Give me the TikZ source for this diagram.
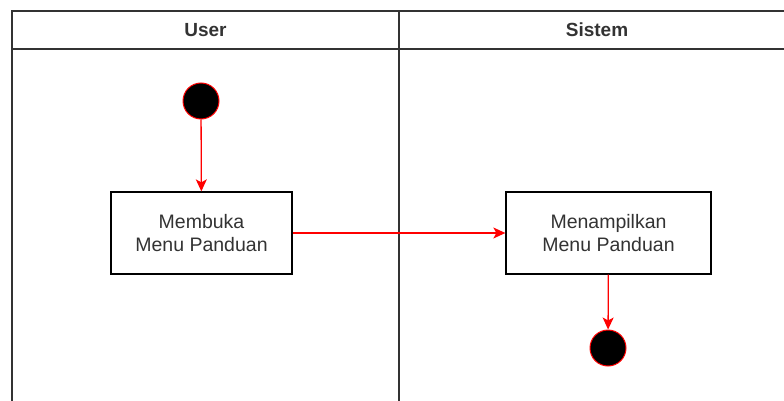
\documentclass[tikz,border=0pt]{standalone}
\usepackage{fontspec}
\setmainfont{Liberation Sans}
\usetikzlibrary{arrows.meta,shapes,positioning}

\begin{document}
\begin{tikzpicture}[x=1pt,y=-1pt,>={Stealth[length=12pt,width=11pt,inset=3pt]},auto]

  \tikzstyle{lane}=[draw=black!80,line width=1.6pt]
  \tikzstyle{state}=[circle,fill=black,draw=red,line width=1pt,minimum size=36pt,inner sep=0pt]
  \tikzstyle{activity}=[rectangle,draw=black,line width=1.3pt,fill=white,
  			  minimum height=82pt,align=center,text=black!80,
  			  font=\fontsize{19.5}{23}\selectfont]
  \tikzstyle{flow}=[->,draw=red,line width=1.3pt]
  \tikzstyle{lane title}=[font=\fontsize{19}{23}\selectfont\bfseries,text=black!80]

  \useasboundingbox (0,0) rectangle (784,401);

  % swimlanes
  \draw [lane] (12,401) -- (12,11) -- (800,11);
  \draw [lane] (12,49) -- (800,49);
  \draw [lane] (399,11) -- (399,401);
  \node [lane title] (user)  at (205.5,30) {User};
  \node [lane title] (sistem) at (597,30) {Sistem};

  % nodes
  \node [state] (start) at (201,101) {};
  \node [activity,minimum width=181pt] (buka) at (201.5,233) {Membuka\\Menu Panduan};
  \node [activity,minimum width=205pt] (tampil) at (608.5,233) {Menampilkan\\Menu Panduan};
  \node [state] (end) at (608,348) {};

  % flows
  \draw [flow] (start) -- (buka);
  \draw [flow] (buka) -- (tampil);
  \draw [flow] (tampil) -- (end);
\end{tikzpicture}
\end{document}
